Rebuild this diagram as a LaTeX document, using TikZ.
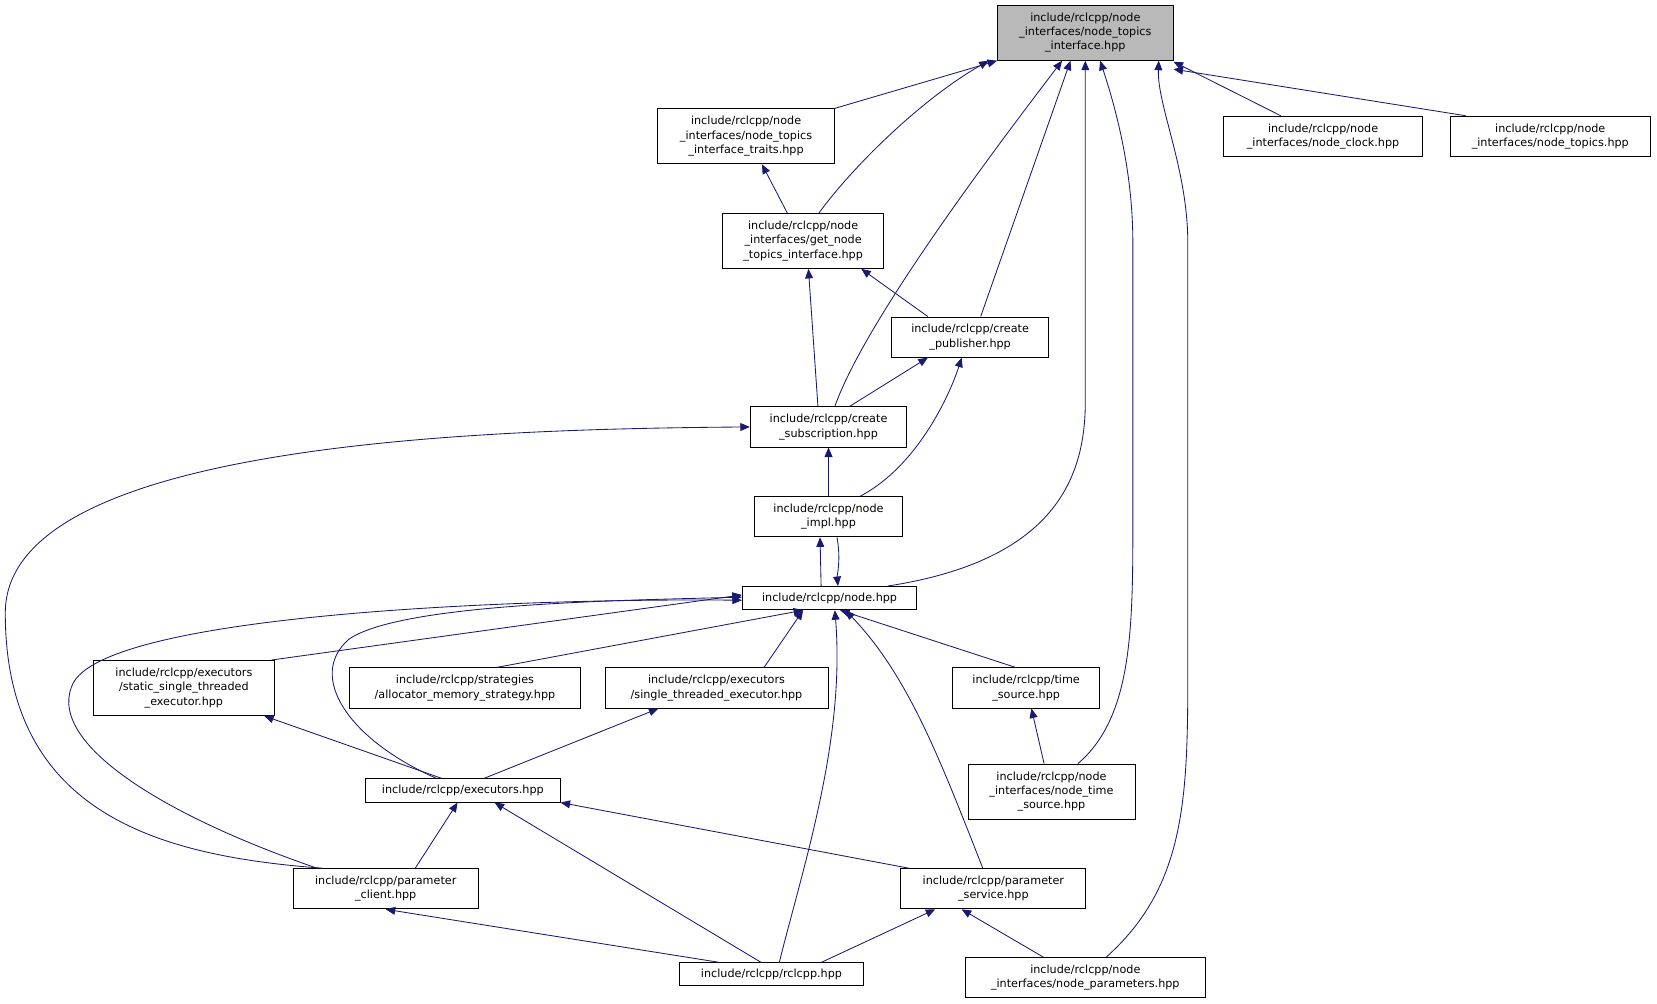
\documentclass[tikz,border=0pt]{standalone}
\usepackage{fontspec}
\setmainfont{DejaVu Sans}
\usetikzlibrary{arrows.meta}
\definecolor{edgeblue}{HTML}{191970}
\begin{document}
\begin{tikzpicture}[x=1pt,y=-1pt,
  box/.style={draw,line width=0.9pt,fill=white,align=center,inner sep=1pt,font=\fontsize{10.6}{13.5}\selectfont},
  dep/.style={draw=edgeblue,line width=0.8pt,-{Triangle[length=9pt,width=7.5pt]},fill=none}]
\useasboundingbox (0,0) rectangle (1568,950);
\node[box,fill=gray!55,minimum width=166,minimum height=52] (top) at (1027,31) {include/rclcpp/node\\\_interfaces/node\_topics\\\_interface.hpp};
\node[box,minimum width=167,minimum height=52] (traits) at (706,129) {include/rclcpp/node\\\_interfaces/node\_topics\\\_interface\_traits.hpp};
\node[box,minimum width=188,minimum height=38] (clock) at (1252,129) {include/rclcpp/node\\\_interfaces/node\_clock.hpp};
\node[box,minimum width=189,minimum height=38] (topics) at (1467,129) {include/rclcpp/node\\\_interfaces/node\_topics.hpp};
\node[box,minimum width=152,minimum height=52] (getn) at (760,228) {include/rclcpp/node\\\_interfaces/get\_node\\\_topics\_interface.hpp};
\node[box,minimum width=149,minimum height=38] (cpub) at (918,319) {include/rclcpp/create\\\_publisher.hpp};
\node[box,minimum width=148,minimum height=38] (csub) at (784,404) {include/rclcpp/create\\\_subscription.hpp};
\node[box,minimum width=140,minimum height=38] (nimpl) at (784,489) {include/rclcpp/node\\\_impl.hpp};
\node[box,minimum width=165,minimum height=22] (node) at (785,566) {include/rclcpp/node.hpp};
\node[box,minimum width=171,minimum height=52] (static) at (174,651) {include/rclcpp/executors\\/static\_single\_threaded\\\_executor.hpp};
\node[box,minimum width=219,minimum height=38] (alloc) at (440,651) {include/rclcpp/strategies\\/allocator\_memory\_strategy.hpp};
\node[box,minimum width=211,minimum height=38] (single) at (678,651) {include/rclcpp/executors\\/single\_threaded\_executor.hpp};
\node[box,minimum width=139,minimum height=38] (tsrc) at (971,651) {include/rclcpp/time\\\_source.hpp};
\node[box,minimum width=184,minimum height=22] (execs) at (438,748) {include/rclcpp/executors.hpp};
\node[box,minimum width=158,minimum height=52] (nts) at (995,749) {include/rclcpp/node\\\_interfaces/node\_time\\\_source.hpp};
\node[box,minimum width=175,minimum height=38] (pclient) at (365,841) {include/rclcpp/parameter\\\_client.hpp};
\node[box,minimum width=175,minimum height=38] (pserv) at (940,841) {include/rclcpp/parameter\\\_service.hpp};
\node[box,minimum width=174,minimum height=22] (rclcpp) at (730,922) {include/rclcpp/rclcpp.hpp};
\node[box,minimum width=227,minimum height=38] (nparams) at (1027,925) {include/rclcpp/node\\\_interfaces/node\_parameters.hpp};
% edges to top
\draw[dep] (traits.north east) -- (top.south west);
\draw[dep] ([xshift=15]getn.north) .. controls (805,160) and (870,95) .. ([xshift=-8]top.south west);
\draw[dep] ([xshift=6]csub.north) .. controls (820,300) and (950,130) .. ([xshift=-22]top.south);
\draw[dep] ([xshift=10]cpub.north) -- ([xshift=-14]top.south);
\draw[dep] ([xshift=55]node.north) .. controls (1000,530) and (1027,450) .. (1027,380) -- (top.south);
\draw[dep] ([xshift=25]nts.north) .. controls (1070,680) and (1072,600) .. (1072,500) -- (1072,230) .. controls (1072,160) and (1055,100) .. ([xshift=14]top.south);
\draw[dep] ([xshift=20]nparams.north) .. controls (1120,840) and (1124,760) .. (1124,640) -- (1124,230) .. controls (1124,160) and (1095,100) .. ([xshift=-14]top.south east);
\draw[dep] ([xshift=-40]clock.north) -- ([yshift=-1]top.south east);
\draw[dep] ([xshift=-80]topics.north) -- ([yshift=-8]top.south east);
% upper tree
\draw[dep] ([xshift=-15]getn.north) -- ([xshift=15]traits.south);
\draw[dep] ([xshift=-10]csub.north) -- ([xshift=5]getn.south);
\draw[dep] ([xshift=-40]cpub.north) -- ([xshift=55]getn.south);
\draw[dep] ([xshift=20]csub.north) -- ([xshift=-40]cpub.south);
\draw[dep] ([xshift=30]nimpl.north) .. controls (870,440) and (900,370) .. ([xshift=-8]cpub.south);
\draw[dep] (nimpl.north) -- (csub.south);
\draw[dep] ([xshift=-8]node.north) -- ([xshift=-8]nimpl.south);
\draw[dep] ([xshift=8]nimpl.south) .. controls (796,530) and (792,545) .. ([xshift=8]node.north);
\draw[dep] ([xshift=-60]pclient.north) .. controls (150,810) and (5,770) .. (5,580) .. controls (5,420) and (450,406) .. (csub.west);
% to node
\draw[dep] ([xshift=-3]static.north east) -- ([yshift=3]node.west);
\draw[dep] ([xshift=30]alloc.north) -- ([xshift=-25]node.south);
\draw[dep] ([xshift=45]single.north) -- ([xshift=-25]node.south);
\draw[dep] ([xshift=-10]tsrc.north) -- ([xshift=10]node.south);
\draw[dep] ([xshift=-25]execs.north) .. controls (330,700) and (290,640) .. (330,605) .. controls (380,570) and (600,568) .. ([yshift=1]node.west);
\draw[dep] ([xshift=-65]pclient.north) .. controls (150,770) and (40,700) .. (70,645) .. controls (110,580) and (500,566) .. ([yshift=-2]node.west);
\draw[dep] ([xshift=-80]rclcpp.north east) .. controls (760,820) and (800,700) .. ([xshift=5]node.south);
\draw[dep] ([xshift=-10]pserv.north) .. controls (890,720) and (860,640) .. ([xshift=15]node.south);
% lower tree
\draw[dep] ([xshift=-20]execs.north) -- ([xshift=-10]static.south east);
\draw[dep] ([xshift=20]execs.north) -- ([xshift=-55]single.south);
\draw[dep] ([xshift=-7]nts.north) -- ([xshift=5]tsrc.south);
\draw[dep] ([xshift=-60]pclient.north east) -- ([xshift=-5]execs.south);
\draw[dep] ([xshift=-10]rclcpp.north) -- ([xshift=30]execs.south);
\draw[dep] ([xshift=-80]pserv.north) -- (execs.south east);
\draw[dep] ([xshift=-40]rclcpp.north east) -- ([xshift=-55]pserv.south);
\draw[dep] ([xshift=-50]rclcpp.north) -- ([xshift=-88]pclient.south east);
\draw[dep] ([xshift=-40]nparams.north) -- ([xshift=-30]pserv.south);
\end{tikzpicture}
\end{document}
